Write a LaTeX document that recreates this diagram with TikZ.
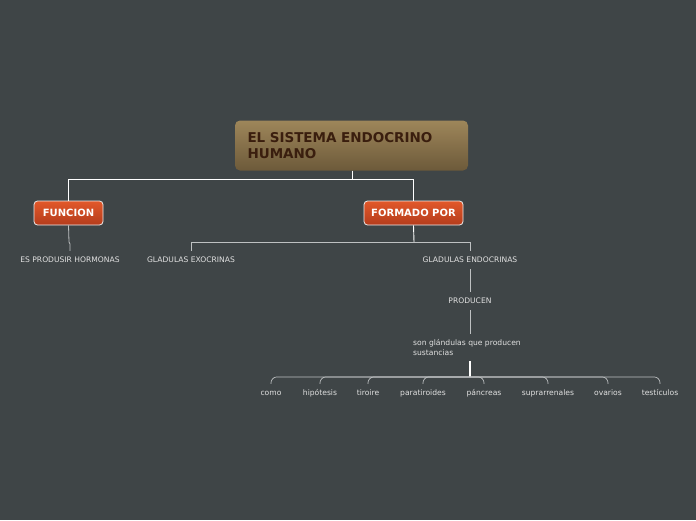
\documentclass[tikz,border=0pt]{standalone}
\usepackage{fontspec}
\setmainfont{DejaVu Sans}
\definecolor{bg}{RGB}{63,69,71}
\definecolor{maintop}{RGB}{158,134,90}
\definecolor{mainbot}{RGB}{108,90,58}
\definecolor{maintext}{RGB}{58,30,14}
\definecolor{ortop}{RGB}{226,88,42}
\definecolor{orbot}{RGB}{180,60,28}
\definecolor{lbl}{RGB}{225,225,225}
\definecolor{ln}{RGB}{190,193,194}
\begin{document}
\begin{tikzpicture}[x=1pt,y=-1pt,
  mainbox/.style={rounded corners=5pt, top color=maintop, bottom color=mainbot, draw=none,
    minimum width=233pt, minimum height=50pt, text width=208pt, align=left,
    font=\bfseries\fontsize{13.5}{16.5}\selectfont, text=maintext, inner sep=0pt},
  subbox/.style={rounded corners=3.5pt, top color=ortop, bottom color=orbot, draw=white!85!gray, line width=0.8pt,
    minimum height=24pt, font=\bfseries\fontsize{10}{12}\selectfont, text=white, inner sep=0pt},
  lab/.style={font=\fontsize{7.6}{10}\selectfont, text=lbl, text height=5.6pt, text depth=1.6pt, inner sep=5.4pt},
  wline/.style={draw=white, line width=0.9pt},
  gline/.style={draw=ln, line width=0.8pt},
  cline/.style={draw=ln, line width=0.7pt, rounded corners=6pt}]
\fill[bg] (0,0) rectangle (696,520);
\useasboundingbox (0,0) rectangle (696,520);

\node[mainbox] (main) at (351.5,145.5) {EL SISTEMA ENDOCRINO\\HUMANO};
\node[subbox, minimum width=69pt] (fun) at (68.5,213) {FUNCION};
\node[subbox, minimum width=99pt] (form) at (413.5,213) {FORMADO POR};

\node[lab] (hor) at (70,260) {ES PRODUSIR HORMONAS};
\node[lab] (exo) at (191,260) {GLADULAS EXOCRINAS};
\node[lab] (endo) at (470,260) {GLADULAS ENDOCRINAS};
\node[lab] (prod) at (470,301) {PRODUCEN};
\node[font=\fontsize{7.6}{10}\selectfont, text=lbl, align=left, minimum height=27pt, anchor=north west, inner sep=0pt] (son) at (413,334) {son glándulas que producen\\sustancias};

\node[lab] (c1) at (271,393) {como};
\node[lab] (c2) at (320,393) {hipótesis};
\node[lab] (c3) at (368,393) {tiroire};
\node[lab] (c4) at (423,393) {paratiroides};
\node[lab] (c5) at (484,393) {páncreas};
\node[lab] (c6) at (548,393) {suprarrenales};
\node[lab] (c7) at (608,393) {ovarios};
\node[lab] (c8) at (660,393) {testículos};

\draw[wline] (main.south -| 352,0) -- (352,179) -| (fun.north);
\draw[wline] (main.south -| 352,0) -- (352,179) -| (form.north);
\draw[gline] (fun.south) -- (69,242) -- (70,244) -- (hor.north -| 70,0);
\draw[wline] (form.south) -- (414,242);
\draw[gline] (414,242) -| (exo.north);
\draw[gline] (414,242) -| (endo.north);
\draw[gline] (endo.south) -- (prod.north);
\draw[gline] (prod.south) -- (prod.south |- son.north);
\coordinate (stem) at (prod.south |- son.south);
\draw[wline, line width=1.2pt] (stem) -- ++(0,16);
\foreach \c in {c1,c2,c3,c4,c5,c6,c7,c8}{
  \draw[cline] (stem) ++(0,15.5) -| (\c.north);
}
\end{tikzpicture}
\end{document}
